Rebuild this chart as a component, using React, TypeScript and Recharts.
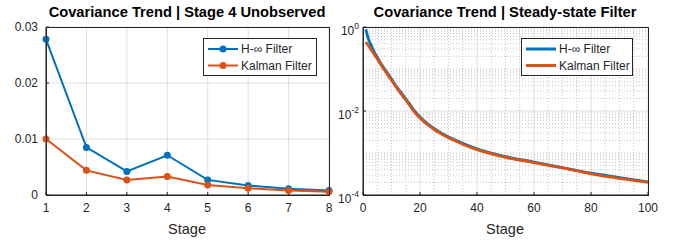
import { LineChart, Line, XAxis, YAxis, CartesianGrid, ReferenceLine } from 'recharts';

// left panel: stage 4 unobserved
const stages = [1, 2, 3, 4, 5, 6, 7, 8];
const hinfStage = [0.0278, 0.0085, 0.0042, 0.0071, 0.0027, 0.0017, 0.0011, 0.0008];
const kalmanStage = [0.01, 0.0044, 0.0027, 0.0033, 0.0018, 0.0012, 0.0008, 0.0006];
const leftYTicks = [0, 0.01, 0.02, 0.03];

// right panel: steady-state filter
const steps = [1, 2, 3, 4, 5, 6, 8, 10, 12, 14, 16, 18, 20, 22, 25, 30, 35, 40, 50, 60, 70, 80, 90, 100];
const hinfSteady = [0.88, 0.5, 0.35, 0.25, 0.19, 0.145, 0.091, 0.058, 0.036, 0.024, 0.0158, 0.0102, 0.0072, 0.0054, 0.0038, 0.0024, 0.0017, 0.00125, 0.00082, 0.00061, 0.00045, 0.00033, 0.00026, 0.000205];
const kalmanSteady = [0.44, 0.35, 0.28, 0.22, 0.174, 0.135, 0.085, 0.054, 0.034, 0.0224, 0.0148, 0.0095, 0.0068, 0.0051, 0.0036, 0.0023, 0.00162, 0.0012, 0.00079, 0.00059, 0.00044, 0.00032, 0.00025, 0.0002];
const rightXTicks = [0, 20, 40, 60, 80, 100];
const rightYTicks = [1, 0.01, 0.0001];
const minorX = [5, 10, 15, 25, 30, 35, 45, 50, 55, 65, 70, 75, 85, 90, 95];
const minorY = [1e-4, 1e-3, 1e-2, 1e-1].flatMap(d => [2, 3, 4, 5, 6, 7, 8, 9].map(m => m * d)).concat([1e-3, 1e-1]);

const BLUE = '#0072BD';
const ORANGE = '#D95319';
const INK = '#262626';
const FONT = '"Liberation Sans", Arial, Helvetica, sans-serif';

const leftData = stages.map((s, i) => ({ stage: s, hinf: hinfStage[i], kalman: kalmanStage[i] }));
const rightData = steps.map((s, i) => ({ stage: s, hinf: hinfSteady[i], kalman: kalmanSteady[i] }));

const tickStyle = { fill: INK, fontSize: 12, fontFamily: FONT };

function NoTick() {
  return <g />;
}

function PowTick(props: any) {
  const { x, y, payload } = props;
  const exp = Math.round(Math.log10(payload.value));
  return (
    <text x={x + 4} y={y + 7.5} textAnchor="end" fill={INK} fontFamily={FONT} fontSize={12}>
      <tspan>10</tspan>
      <tspan dy={-6} fontSize={8.5}>{exp}</tspan>
    </text>
  );
}

function LegendBox({ x, y, w, markers }: { x: number; y: number; w: number; markers: boolean }) {
  const rows = [
    { label: 'H-∞ Filter', color: BLUE },
    { label: 'Kalman Filter', color: ORANGE },
  ];
  return (
    <g>
      <rect x={x + 0.5} y={y + 0.5} width={w} height={37} fill="#fff" stroke={INK} strokeWidth={1} />
      {rows.map((r, i) => {
        const cy = y + 11 + i * 16.5;
        return (
          <g key={r.label}>
            <line x1={x + 5} x2={x + 35} y1={cy} y2={cy} stroke={r.color} strokeWidth={markers ? 2 : 3} />
            {markers && <circle cx={x + 20} cy={cy} r={3.5} fill={r.color} />}
            <text x={x + 38} y={cy + 4.3} fontSize={12} fontFamily={FONT} fill={INK}>{r.label}</text>
          </g>
        );
      })}
    </g>
  );
}

export default function App() {
  return (
    <div style={{ position: 'absolute', left: 0, top: 0, width: 676, height: 240, background: '#fff' }}>
      <div style={{ position: 'absolute', left: 0, top: 0 }}>
        <LineChart width={340} height={240} data={leftData} margin={{ top: 27, right: 11, bottom: 0, left: 10 }}>
          <CartesianGrid stroke="#dfdfdf" strokeWidth={1} />
          <XAxis dataKey="stage" type="number" domain={[1, 8]} ticks={stages} height={45}
            tick={tickStyle} tickSize={-3} tickMargin={11} stroke={INK} />
          <XAxis xAxisId="top" orientation="top" dataKey="stage" type="number" domain={[1, 8]} ticks={stages} height={0}
            tick={<NoTick />} tickSize={-3} axisLine={false} stroke={INK} />
          <YAxis type="number" domain={[0, 0.03]} ticks={leftYTicks} width={36} allowDataOverflow
            tick={tickStyle} tickSize={-3} tickMargin={11} stroke={INK} />
          <YAxis yAxisId="right" orientation="right" type="number" domain={[0, 0.03]} ticks={leftYTicks} width={0}
            tick={<NoTick />} tickSize={-3} axisLine={false} stroke={INK} />
          <Line type="linear" dataKey="hinf" stroke={BLUE} strokeWidth={2} isAnimationActive={false}
            dot={{ r: 3.5, fill: BLUE, stroke: BLUE, strokeWidth: 0 }} />
          <Line type="linear" dataKey="kalman" stroke={ORANGE} strokeWidth={2} isAnimationActive={false}
            dot={{ r: 3.5, fill: ORANGE, stroke: ORANGE, strokeWidth: 0 }} />
        </LineChart>
      </div>
      <div style={{ position: 'absolute', left: 320, top: 0 }}>
        <LineChart width={340} height={240} data={rightData} margin={{ top: 27, right: 12, bottom: 0, left: 0 }}>
          {minorX.map(v => (
            <ReferenceLine key={'mx' + v} x={v} stroke="#c4c4c4" strokeDasharray="1 2" />
          ))}
          {minorY.map((v, i) => (
            <ReferenceLine key={'my' + i} y={v} stroke="#c4c4c4" strokeDasharray="1 2" />
          ))}
          <CartesianGrid stroke="#dfdfdf" strokeWidth={1} />
          <XAxis dataKey="stage" type="number" domain={[0, 100]} ticks={rightXTicks} height={45}
            tick={tickStyle} tickSize={-3} tickMargin={11} stroke={INK} />
          <XAxis xAxisId="top" orientation="top" dataKey="stage" type="number" domain={[0, 100]} ticks={rightXTicks} height={0}
            tick={<NoTick />} tickSize={-3} axisLine={false} stroke={INK} />
          <YAxis type="number" scale="log" domain={[0.0001, 1]} ticks={rightYTicks} width={43} allowDataOverflow
            tick={<PowTick />} tickSize={-3} tickMargin={11} stroke={INK} />
          <YAxis yAxisId="right" orientation="right" type="number" scale="log" domain={[0.0001, 1]} ticks={rightYTicks} width={0}
            allowDataOverflow tick={<NoTick />} tickSize={-3} axisLine={false} stroke={INK} />
          <Line type="monotone" dataKey="hinf" stroke={BLUE} strokeWidth={2.8} dot={false} isAnimationActive={false} />
          <Line type="monotone" dataKey="kalman" stroke={ORANGE} strokeWidth={2.8} dot={false} isAnimationActive={false} />
        </LineChart>
      </div>
      <svg width={676} height={240} style={{ position: 'absolute', left: 0, top: 0, pointerEvents: 'none' }}>
        <rect x={46.5} y={27.5} width={283} height={168} fill="none" stroke={INK} strokeWidth={1} />
        <rect x={363.5} y={27.5} width={285} height={168} fill="none" stroke={INK} strokeWidth={1} />
        <text x={187} y={17} textAnchor="middle" fontSize={14.7} fontWeight="bold" fontFamily={FONT} fill="#000">
          Covariance Trend | Stage 4 Unobserved
        </text>
        <text x={505} y={17} textAnchor="middle" fontSize={14.7} fontWeight="bold" fontFamily={FONT} fill="#000">
          Covariance Trend | Steady-state Filter
        </text>
        <text x={187} y={234} textAnchor="middle" fontSize={14.5} fontFamily={FONT} fill={INK}>Stage</text>
        <text x={505} y={234} textAnchor="middle" fontSize={14.5} fontFamily={FONT} fill={INK}>Stage</text>
        <LegendBox x={203} y={38} w={113} markers />
        <LegendBox x={521} y={38} w={111} markers={false} />
      </svg>
    </div>
  );
}
